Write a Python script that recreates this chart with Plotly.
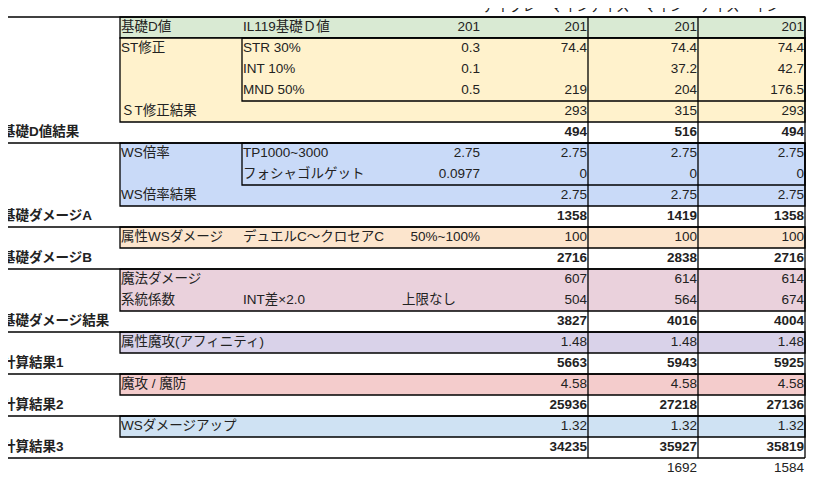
import plotly.graph_objects as go

FONT = "Liberation Sans, Arial, Noto Sans CJK JP"

headers = ["デイブレ・マイン", "アイス・マイン", "アイス・イン"]

# row labels (rows 1..22)
bold_labels = {6: "基礎D値結果", 10: "基礎ダメージA", 12: "基礎ダメージB", 15: "基礎ダメージ結果",
               17: "計算結果1", 19: "計算結果2", 21: "計算結果3"}
col_b = {1: "基礎D値", 2: "ST修正", 5: "ＳT修正結果", 7: "WS倍率", 9: "WS倍率結果",
         11: "属性WSダメージ", 13: "魔法ダメージ", 14: "系統係数", 16: "属性魔攻(アフィニティ)",
         18: "魔攻 / 魔防", 20: "WSダメージアップ"}
col_c = {1: "IL119基礎Ｄ値", 2: "STR 30%", 3: "INT 10%", 4: "MND 50%", 7: "TP1000~3000",
         8: "フォシャゴルゲット", 11: "デュエルC～クロセアC", 14: "INT差×2.0"}
col_d = {1: "201", 2: "0.3", 3: "0.1", 4: "0.5", 7: "2.75", 8: "0.0977", 11: "50%~100%"}
col_d_left = {14: "上限なし"}

val_e = ["201", "74.4", "", "219", "293", "494", "2.75", "0", "2.75", "1358", "100", "2716",
         "607", "504", "3827", "1.48", "5663", "4.58", "25936", "1.32", "34235", ""]
val_f = ["201", "74.4", "37.2", "204", "315", "516", "2.75", "0", "2.75", "1419", "100", "2838",
         "614", "564", "4016", "1.48", "5943", "4.58", "27218", "1.32", "35927", "1692"]
val_g = ["201", "74.4", "42.7", "176.5", "293", "494", "2.75", "0", "2.75", "1358", "100", "2716",
         "614", "674", "4004", "1.48", "5925", "4.58", "27136", "1.32", "35819", "1584"]

groups = [(1, 1, "#d9ead3"), (2, 5, "#fff2cc"), (7, 9, "#c9daf8"), (11, 11, "#fce5cd"),
          (13, 14, "#ead1dc"), (16, 16, "#d9d2e9"), (18, 18, "#f4cccc"), (20, 20, "#cfe2f3")]
sub_boxes = [(2, 4), (7, 8)]

TOP, RH = 17, 21
XB, XC, XD, XE, XF, XG = 120, 242, 400, 588, 698, 805
OFF = 8  # page body margin


def ry(r):
    return TOP + RH * (r - 1) + RH / 2


def rtop(r):
    return TOP + RH * (r - 1)


fig = go.Figure()
shapes = []
line = dict(color="black", width=1.3)

shapes.append(dict(type="line", x0=2, x1=2, y0=0, y1=484, line=dict(color="#d0d0d0", width=1)))
for r0, r1, c in groups:
    shapes.append(dict(type="rect", x0=XB, x1=XG, y0=rtop(r0), y1=rtop(r1 + 1),
                       fillcolor=c, line=line, layer="below"))
for r0, r1 in sub_boxes:
    shapes.append(dict(type="rect", x0=XC, x1=XG, y0=rtop(r0), y1=rtop(r1 + 1), line=line))
shapes.append(dict(type="line", x0=2, x1=XG, y0=rtop(1), y1=rtop(1), line=line))
for r in bold_labels:
    shapes.append(dict(type="line", x0=2, x1=XG, y0=rtop(r + 1), y1=rtop(r + 1), line=line))
for x in (XE, XF, XG):
    shapes.append(dict(type="line", x0=x, x1=x, y0=rtop(1), y1=rtop(22), line=line))


def add_text(xs, ys, texts, pos, bold=False):
    fig.add_trace(go.Scatter(
        x=xs, y=ys, text=[f"<b>{t}</b>" if bold else t for t in texts], mode="text",
        textposition=pos, textfont=dict(family=FONT, size=13.5, color="#222"),
        hoverinfo="skip", showlegend=False))


add_text([482, 590, 700], [8, 8, 8], headers, "middle right")
add_text([2] * len(bold_labels), [ry(r) for r in bold_labels], list(bold_labels.values()),
         "middle right", bold=True)
add_text([XB + 1] * len(col_b), [ry(r) for r in col_b], list(col_b.values()), "middle right")
add_text([XC + 1] * len(col_c), [ry(r) for r in col_c], list(col_c.values()), "middle right")
add_text([XE - 108] * len(col_d), [ry(r) for r in col_d], list(col_d.values()), "middle left")
add_text([402] * len(col_d_left), [ry(r) for r in col_d_left], list(col_d_left.values()),
         "middle right")
for x, vals in ((XE - 1, val_e), (XF - 1, val_f), (XG - 1, val_g)):
    for bold in (False, True):
        rows = [i + 1 for i in range(len(vals)) if vals[i] and ((i + 1) in bold_labels) == bold]
        add_text([x] * len(rows), [ry(r) for r in rows], [vals[r - 1] for r in rows],
                 "middle left", bold=bold)

fig.update_layout(
    width=816, height=484, margin=dict(l=0, r=0, t=0, b=0),
    plot_bgcolor="white", paper_bgcolor="white", shapes=shapes,
    xaxis=dict(range=[OFF, 816 + OFF], visible=False, fixedrange=True),
    yaxis=dict(range=[484 + OFF, OFF], visible=False, fixedrange=True),
)
fig.write_html("out.html")
